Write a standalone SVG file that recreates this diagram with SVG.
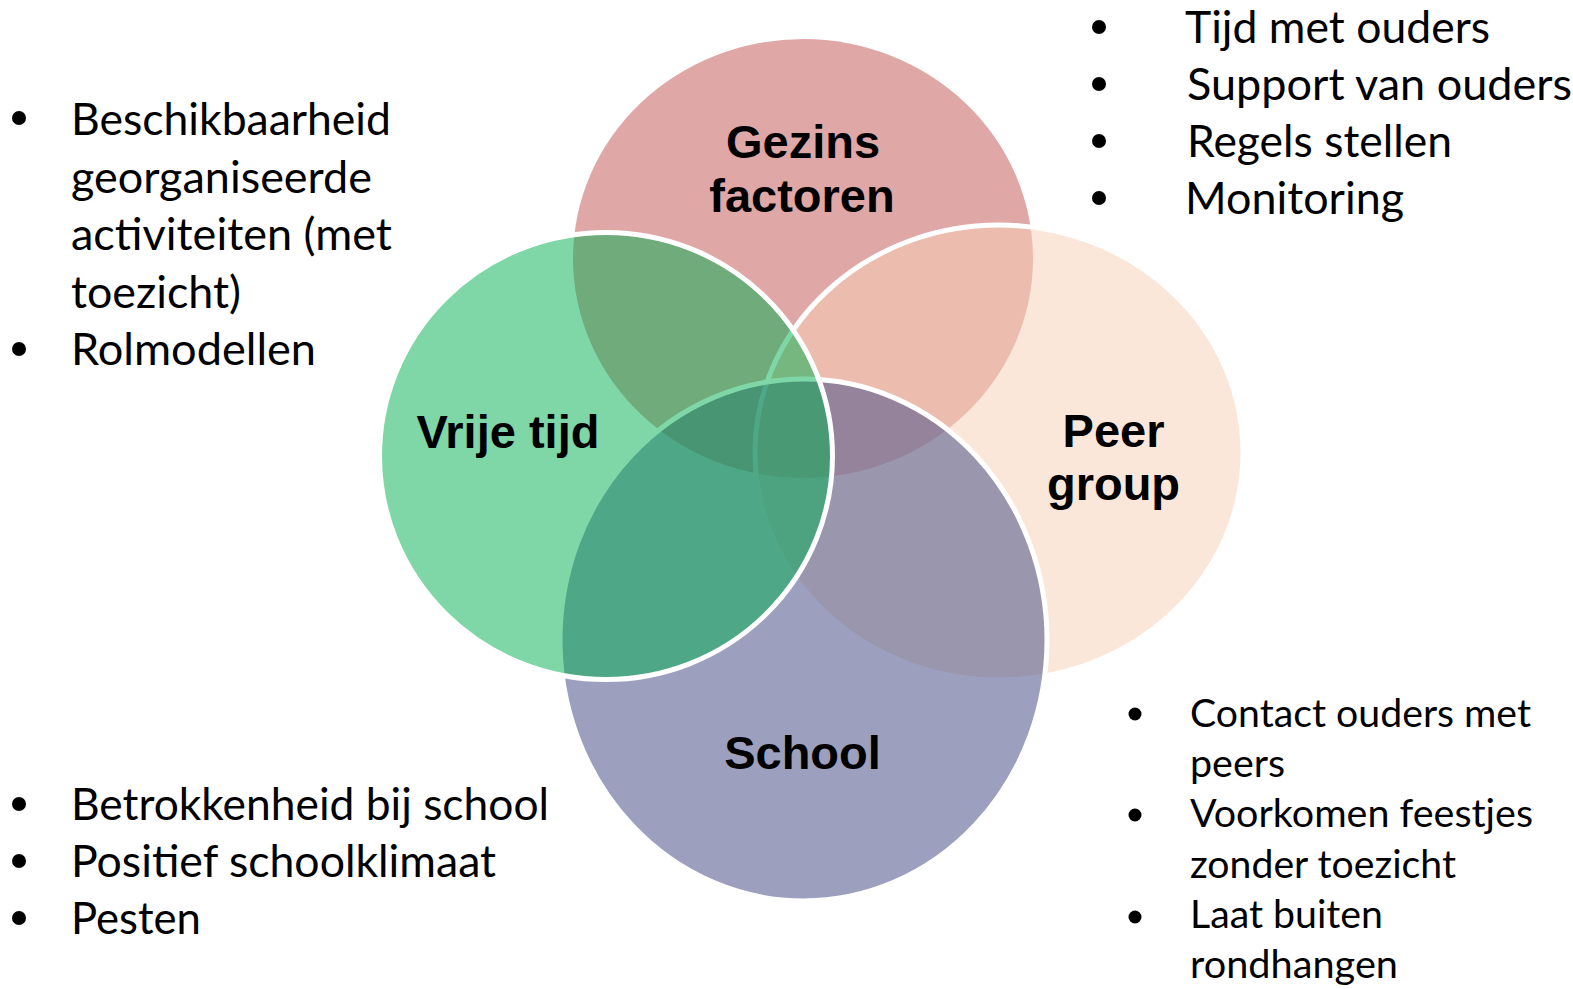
<svg xmlns="http://www.w3.org/2000/svg" width="1573" height="989" viewBox="0 0 1573 989">
  <style>
    .title { font-family: "Liberation Sans", Arial, sans-serif; font-weight: bold; font-size: 47px; fill: #000; text-anchor: middle; }
    .item { font-family: Lato, "Noto Sans", sans-serif; font-size: 44px; fill: #000; }
    .item-s { font-family: Lato, "Noto Sans", sans-serif; font-size: 39px; fill: #000; }
    .bul { fill: #000; }
    .ring { stroke: #fff; stroke-width: 5; }
  </style>
  <rect width="1573" height="989" fill="#fff"/>

  <g id="node-gezins">
    <ellipse cx="803" cy="258.5" rx="230" ry="219.5" fill="#C0504D" fill-opacity="0.5"/>
    <text class="title" x="803" y="158">Gezins</text>
    <text class="title" x="802" y="212">factoren</text>
  </g>

  <g id="node-peer">
    <ellipse class="ring" cx="999" cy="452.5" rx="244" ry="227.5" fill="#F7D2B7" fill-opacity="0.53"/>
    <text class="title" x="1113.5" y="447">Peer</text>
    <text class="title" x="1113.5" y="500">group</text>
  </g>

  <g id="node-school">
    <ellipse class="ring" cx="803.5" cy="640" rx="243.5" ry="261" fill="#51588D" fill-opacity="0.57"/>
    <text class="title" x="802.5" y="769">School</text>
  </g>

  <g id="node-vrije-tijd">
    <ellipse class="ring" cx="606" cy="456" rx="226.5" ry="223.5" fill="#00B050" fill-opacity="0.5"/>
    <text class="title" x="508" y="448">Vrije tijd</text>
  </g>

  <g id="list-gezins">
    <circle class="bul" cx="1099" cy="27" r="7"/>
    <circle class="bul" cx="1099" cy="84" r="7"/>
    <circle class="bul" cx="1099" cy="141" r="7"/>
    <circle class="bul" cx="1099" cy="198" r="7"/>
    <text class="item" x="1185" y="43" textLength="305" lengthAdjust="spacingAndGlyphs">Tijd met ouders</text>
    <text class="item" x="1187" y="100" textLength="385" lengthAdjust="spacingAndGlyphs">Support van ouders</text>
    <text class="item" x="1187" y="157" textLength="265" lengthAdjust="spacingAndGlyphs">Regels stellen</text>
    <text class="item" x="1185" y="214" textLength="219" lengthAdjust="spacingAndGlyphs">Monitoring</text>
  </g>

  <g id="list-vrije-tijd">
    <circle class="bul" cx="19" cy="118" r="7"/>
    <circle class="bul" cx="19" cy="349" r="7"/>
    <text class="item" x="71" y="135" textLength="320" lengthAdjust="spacingAndGlyphs">Beschikbaarheid</text>
    <text class="item" x="71" y="193" textLength="301" lengthAdjust="spacingAndGlyphs">georganiseerde</text>
    <text class="item" x="71" y="250" textLength="321" lengthAdjust="spacingAndGlyphs">activiteiten (met</text>
    <text class="item" x="71" y="308" textLength="170" lengthAdjust="spacingAndGlyphs">toezicht)</text>
    <text class="item" x="71" y="365" textLength="245" lengthAdjust="spacingAndGlyphs">Rolmodellen</text>
  </g>

  <g id="list-school">
    <circle class="bul" cx="19" cy="804" r="7"/>
    <circle class="bul" cx="19" cy="861" r="7"/>
    <circle class="bul" cx="19" cy="918" r="7"/>
    <text class="item" x="71" y="820" textLength="478" lengthAdjust="spacingAndGlyphs">Betrokkenheid bij school</text>
    <text class="item" x="71" y="877" textLength="425" lengthAdjust="spacingAndGlyphs">Positief schoolklimaat</text>
    <text class="item" x="71" y="934" textLength="130" lengthAdjust="spacingAndGlyphs">Pesten</text>
  </g>

  <g id="list-peer">
    <circle class="bul" cx="1135" cy="714" r="6.5"/>
    <circle class="bul" cx="1135" cy="815" r="6.5"/>
    <circle class="bul" cx="1135" cy="917" r="6.5"/>
    <text class="item-s" x="1190" y="727" textLength="341" lengthAdjust="spacingAndGlyphs">Contact ouders met</text>
    <text class="item-s" x="1190" y="777" textLength="95" lengthAdjust="spacingAndGlyphs">peers</text>
    <text class="item-s" x="1190" y="827" textLength="343" lengthAdjust="spacingAndGlyphs">Voorkomen feestjes</text>
    <text class="item-s" x="1190" y="878" textLength="266" lengthAdjust="spacingAndGlyphs">zonder toezicht</text>
    <text class="item-s" x="1190" y="928" textLength="193" lengthAdjust="spacingAndGlyphs">Laat buiten</text>
    <text class="item-s" x="1190" y="978" textLength="208" lengthAdjust="spacingAndGlyphs">rondhangen</text>
  </g>
</svg>
